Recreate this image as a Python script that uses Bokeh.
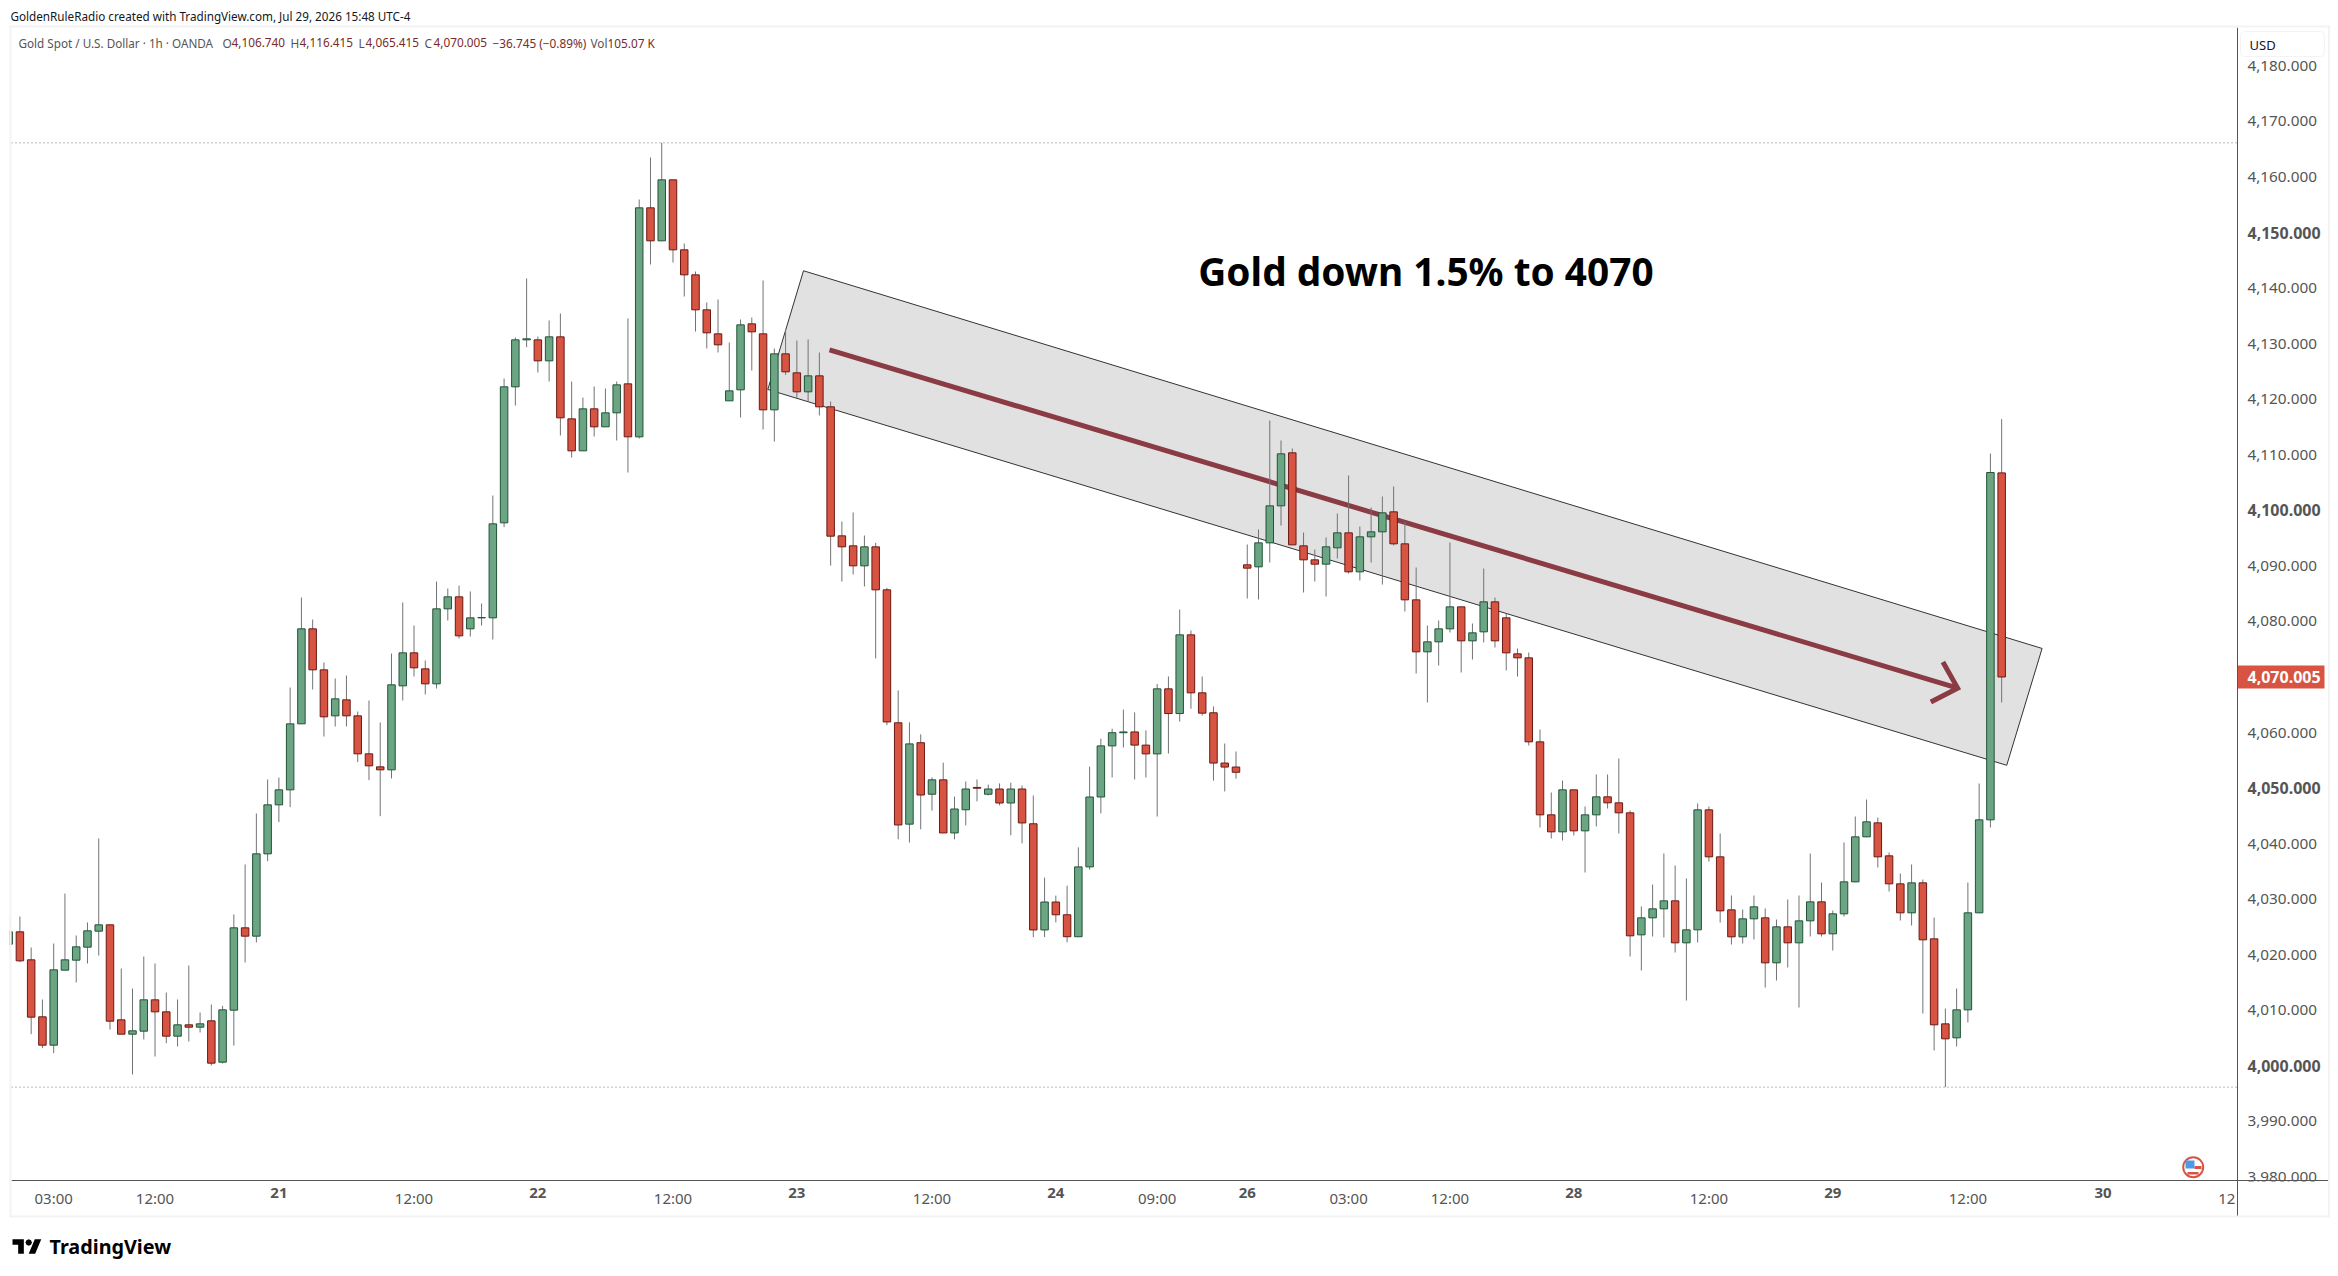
import math
from bokeh.plotting import figure
from bokeh.embed import file_html
from bokeh.resources import INLINE
from bokeh.core.properties import value
from bokeh.models import (Range1d, LinearAxis, FixedTicker, NumeralTickFormatter,
                          BoxAnnotation, PolyAnnotation, Label, ColumnDataSource)

opens = [4021.91,4024.13,4019.09,4008.83,4003.73,4017.23,4019.03,4021.37,4024.25,4025.39,4008.29,4005.71,4006.25,4011.89,4009.73,4005.35,4007.39,4006.97,4008.11,4000.67,4010.03,4024.85,4023.35,
4038.17,4046.99,4049.69,4061.57,4078.67,4071.29,4063.01,4065.89,4063.01,4056.17,4053.83,4053.29,4068.41,4074.35,4071.47,4068.77,4082.27,4084.43,4078.67,4080.65,4080.65,
4097.75,4122.23,4130.69,4130.69,4126.91,4131.23,4116.47,4110.71,4118.27,4115.03,4117.55,4122.77,4113.23,4154.45,4148.51,4159.49,4146.89,4142.39,4136.09,4131.77,4119.71,4121.69,4133.57,4131.77,4118.09,4128.17,4124.75,4121.33,4124.21,4118.63,
4095.41,4093.61,4090.01,4093.43,4085.69,4061.76,4043.51,4058.17,4048.90,4051.49,4041.93,4046.10,4050.12,4048.90,4049.84,4047.32,4049.84,4043.58,4024.47,4029.50,4027.20,4023.25,4035.82,4048.40,4057.60,4059.97,4060.11,4057.74,4056.16,4067.87,4063.42,4077.59,4067.15,4063.56,4054.51,4053.79,
4090.19,4089.83,4094.15,4100.81,4110.35,4093.61,4091.09,4090.31,4093.25,4095.95,4088.93,4095.23,4096.13,4099.73,4093.97,4083.89,4074.53,4076.33,4078.67,4082.63,4076.51,4078.13,4083.53,4080.65,4074.17,4073.45,4058.33,
4045.19,4042.13,4049.69,4042.31,4045.19,4048.43,4047.35,4045.55,4023.59,4026.65,4028.27,4029.71,4022.15,4024.49,4046.09,4037.63,4028.09,4023.23,4026.47,4026.65,4018.55,4025.03,4022.15,4026.11,4029.53,4023.77,4027.37,4033.13,4041.23,4043.75,4037.81,4032.77,4027.55,4032.95,4022.87,4007.57,4005.05,4010.09,4027.55,4044.29,4106.74]
highs = [4027.00,4026.89,4021.31,4011.95,4022.03,4031.03,4023.47,4025.81,4040.93,4025.39,4017.53,4013.93,4019.69,4018.43,4013.21,4011.95,4018.07,4009.61,4011.05,4010.81,4027.25,4036.25,4045.43,
4051.55,4051.91,4068.11,4084.31,4080.35,4072.61,4069.73,4070.27,4063.79,4065.77,4061.81,4074.23,4083.41,4079.27,4072.97,4087.19,4085.93,4086.47,4085.39,4083.23,4102.67,
4123.73,4131.11,4141.73,4131.29,4134.17,4135.43,4123.19,4120.31,4122.29,4121.93,4123.19,4134.53,4155.95,4163.51,4166.15,4159.49,4148.03,4142.99,4137.41,4137.95,4130.21,4134.35,4134.71,4141.37,4129.13,4132.55,4130.57,4130.75,4128.41,4119.59,
4097.99,4099.61,4095.47,4094.15,4086.05,4067.58,4061.84,4059.68,4051.92,4054.58,4048.47,4051.20,4051.56,4050.63,4050.84,4050.98,4050.48,4048.68,4033.88,4030.65,4032.44,4039.34,4053.86,4058.89,4060.69,4064.13,4063.63,4060.40,4068.73,4070.10,4082.15,4078.37,4070.10,4064.71,4058.03,4056.59,
4093.85,4096.55,4116.17,4112.57,4111.13,4096.01,4092.95,4095.11,4099.43,4106.27,4097.09,4100.51,4102.49,4104.29,4097.99,4089.71,4079.27,4080.17,4094.21,4082.63,4079.63,4089.53,4084.31,4081.43,4075.13,4074.41,4060.55,
4049.21,4051.37,4049.69,4046.69,4052.45,4052.45,4055.33,4045.97,4028.69,4032.65,4038.23,4036.07,4033.73,4047.23,4046.69,4041.83,4030.67,4028.15,4030.67,4028.33,4026.35,4029.95,4030.67,4038.23,4033.01,4027.97,4040.21,4044.89,4047.95,4044.71,4038.41,4034.63,4036.25,4033.55,4026.71,4010.33,4013.93,4033.01,4050.83,4110.23,4116.415]
lows = [4020.00,4018.67,4005.71,4003.19,4002.29,4017.23,4015.01,4018.43,4019.87,4006.55,4005.71,3998.45,4004.75,4001.69,4004.09,4003.49,4004.39,4006.01,4000.07,4000.43,4003.67,4018.61,4022.21,
4036.85,4043.87,4046.57,4061.57,4067.75,4059.29,4061.09,4061.09,4054.67,4051.43,4044.95,4051.73,4065.77,4070.09,4066.85,4067.93,4080.17,4076.93,4077.29,4079.27,4076.75,
4096.97,4118.87,4129.37,4124.81,4123.19,4113.47,4109.51,4110.71,4113.29,4115.03,4112.57,4106.81,4112.93,4144.25,4148.51,4144.61,4138.49,4132.19,4129.13,4128.41,4119.71,4116.71,4125.17,4114.55,4112.39,4124.39,4120.25,4119.53,4117.07,4090.07,
4087.19,4088.45,4086.29,4073.33,4061.33,4040.78,4040.21,4042.58,4045.95,4041.93,4040.78,4043.29,4047.61,4048.68,4046.89,4041.50,4040.06,4023.17,4023.17,4025.83,4022.24,4023.25,4035.32,4045.45,4051.92,4057.31,4051.56,4051.92,4044.88,4056.23,4061.98,4064.28,4063.06,4051.34,4049.40,4051.70,
4084.13,4083.95,4090.61,4097.27,4093.79,4085.21,4087.19,4084.49,4091.33,4088.63,4087.37,4090.61,4086.65,4093.67,4081.79,4070.63,4065.41,4072.07,4078.01,4070.81,4073.15,4076.21,4075.31,4071.17,4070.09,4057.67,4042.91,
4040.93,4040.57,4041.47,4034.81,4043.09,4046.33,4041.83,4019.69,4017.17,4023.29,4023.11,4020.41,4011.77,4022.21,4036.79,4025.81,4021.85,4022.03,4022.75,4014.11,4015.37,4017.71,4010.51,4023.29,4023.29,4020.77,4026.89,4033.07,4041.17,4035.71,4031.39,4026.17,4025.27,4009.43,4002.77,3996.17,4003.49,4007.81,4027.55,4042.91,4065.415]
closes = [4024.13,4018.91,4008.77,4003.73,4017.29,4019.09,4021.43,4024.31,4025.39,4008.05,4005.71,4006.31,4011.89,4009.73,4005.35,4007.39,4006.97,4007.57,4000.49,4010.09,4024.85,4023.35,4038.17,
4046.99,4049.69,4061.57,4078.67,4071.29,4062.83,4066.07,4063.01,4056.17,4054.01,4053.29,4068.59,4074.35,4071.65,4068.77,4082.27,4084.43,4077.41,4080.65,4080.70,4097.57,
4122.23,4130.69,4130.87,4126.91,4131.23,4116.65,4110.71,4118.27,4115.03,4117.55,4122.59,4113.23,4154.45,4148.51,4159.49,4146.89,4142.39,4136.09,4131.95,4129.79,4121.51,4133.39,4132.13,4118.09,4128.17,4124.93,4121.33,4124.21,4118.63,4095.35,
4093.43,4090.01,4093.43,4085.69,4061.91,4043.37,4057.96,4048.76,4051.49,4041.93,4046.24,4049.84,4049.98,4049.84,4047.32,4049.84,4043.73,4024.47,4029.50,4027.20,4023.25,4035.82,4048.40,4057.60,4059.97,4060.11,4057.74,4056.16,4067.87,4063.42,4077.59,4067.15,4063.49,4054.51,4053.79,4052.85,
4089.59,4094.15,4100.81,4110.17,4093.79,4091.09,4090.31,4093.43,4095.95,4088.93,4095.23,4096.13,4099.55,4093.97,4083.89,4074.53,4076.33,4078.67,4082.63,4076.51,4077.95,4083.53,4076.51,4074.35,4073.45,4058.33,4045.19,
4042.13,4049.69,4042.31,4045.19,4048.43,4047.35,4045.55,4023.41,4026.65,4028.27,4029.71,4022.15,4024.49,4046.09,4037.63,4027.91,4023.23,4026.47,4028.63,4018.55,4025.03,4022.15,4026.11,4029.53,4023.77,4027.37,4033.13,4041.23,4043.93,4037.63,4032.77,4027.55,4032.95,4022.69,4007.39,4004.87,4010.09,4027.55,4044.29,4106.81,4070.005]

x_tick_labels = {4:"03:00",13:"12:00",36:"12:00",59:"12:00",82:"12:00",102:"09:00",119:"03:00",128:"12:00",151:"12:00",174:"12:00",197:"12"}
x_bold_labels = {24:"21",47:"22",70:"23",93:"24",110:"26",139:"28",162:"29",186:"30"}
y_ticks = [3980,3990,4010,4020,4030,4040,4060,4070,4080,4090,4110,4120,4130,4140,4160,4170,4180]
y_bold_ticks = [4000,4050,4100,4150]
channel_x = [70.59,180.59,177.45,67.42]
channel_y = [4143.12,4075.14,4054.11,4121.75]
arrow_x = [72.9,173.09]
arrow_y = [4128.9,4068.0]
head_x = [171.78,173.09,170.71]
head_y = [4072.7,4068.0,4065.5]

W, H = 2330, 1268
X0, BAR = 8.15, 11.26          # pixel position of bar 0, pixels per bar
P0, PPX = 4191.77, 0.18        # price at the top of the canvas, price per pixel
def xv(px): return (px - X0) / BAR
def yv(py): return P0 - PPX * py
PANE_L, PANE_R, PANE_T, PANE_B = 11, 2237, 27, 1180

UP, DOWN, UP_B, DOWN_B, WICK = "#6ba583", "#d75442", "#225437", "#6b1914", "#737375"
FONT = "Noto Sans"
idx = list(range(len(closes)))
up = [closes[i] >= opens[i] for i in idx]
src = ColumnDataSource(dict(
    x=idx, o=opens, h=highs, l=lows, c=closes,
    top=[max(opens[i], closes[i]) for i in idx],
    bot=[min(opens[i], closes[i]) for i in idx],
    fill=[UP if u else DOWN for u in up],
    edge=[UP_B if u else DOWN_B for u in up]))

p = figure(width=W, height=H, output_backend="svg", toolbar_location=None,
           x_range=Range1d(xv(0), xv(W)), y_range=Range1d(yv(H), yv(0)),
           x_axis_location=None, y_axis_location=None,
           min_border_left=0, min_border_top=0, min_border_right=0, min_border_bottom=0)
p.grid.visible = False
p.outline_line_color = None
p.background_fill_color = "#ffffff"

def style(ax, bold=False, size=15):
    ax.major_label_text_font = FONT
    ax.major_label_text_font_size = f"{size}px"
    ax.major_label_text_font_style = "bold" if bold else "normal"
    ax.major_label_text_color = "#555555"
    ax.major_tick_line_color = None
    ax.minor_tick_line_color = None
    ax.major_tick_out = 0
    ax.major_tick_in = 0

ax_x = LinearAxis(ticker=FixedTicker(ticks=list(x_tick_labels)), major_label_overrides=dict(x_tick_labels),
                  fixed_location=yv(PANE_B), bounds=(xv(PANE_L), xv(2327.5)))
style(ax_x); ax_x.axis_line_color = "#555555"; ax_x.major_label_standoff = 7
p.add_layout(ax_x, "below")
ax_xb = LinearAxis(ticker=FixedTicker(ticks=list(x_bold_labels)), major_label_overrides=dict(x_bold_labels),
                   fixed_location=yv(PANE_B))
style(ax_xb, True); ax_xb.axis_line_color = None; ax_xb.major_label_standoff = 7
p.add_layout(ax_xb, "below")

ax_y = LinearAxis(ticker=FixedTicker(ticks=y_ticks), formatter=NumeralTickFormatter(format="0,0.000"),
                  fixed_location=xv(PANE_R), bounds=(yv(1215.5), yv(PANE_T)))
style(ax_y, size=15.3); ax_y.axis_line_color = "#555555"; ax_y.major_label_standoff = 10
p.add_layout(ax_y, "right")
ax_yb = LinearAxis(ticker=FixedTicker(ticks=y_bold_ticks), formatter=NumeralTickFormatter(format="0,0.000"),
                   fixed_location=xv(PANE_R))
style(ax_yb, True, 16); ax_yb.axis_line_color = None; ax_yb.major_label_standoff = 10
p.add_layout(ax_yb, "right")

for lvl in (max(highs), min(lows)):
    p.segment([xv(PANE_L)], [lvl], [xv(PANE_R)], [lvl], line_color="#777777", line_dash="1 3", line_width=1)

p.patch(channel_x, channel_y, fill_color="#e1e1e1", line_color="#333333", line_width=1)
p.line(arrow_x, arrow_y, line_color="#8a3b44", line_width=5)
p.line(head_x, head_y, line_color="#8a3b44", line_width=5, line_join="miter")
p.segment("x", "l", "x", "h", source=src, line_color=WICK, line_width=1)
p.vbar(x="x", top="top", bottom="bot", width=0.666, source=src, fill_color="fill", line_color="edge", line_width=1)

p.text([105.65], [4143.0], text=["Gold down 1.5% to 4070"], text_font=value(FONT), text_font_size="38.8px",
       text_font_style="bold", text_baseline="middle", text_color="#000000")

def box(l, t, r, b, color, line=None, radius=0):
    p.add_layout(BoxAnnotation(left=l, right=r, top=t, bottom=b,
                 left_units="canvas", right_units="canvas", top_units="canvas", bottom_units="canvas",
                 fill_color=color, fill_alpha=1, line_color=line, line_alpha=1 if line else 0,
                 border_radius=radius))

def label(x, y, text, color="#131722", size=13, bold=False, font=FONT):
    p.add_layout(Label(x=x, y=y, x_units="canvas", y_units="canvas", text=text, text_color=color,
                 text_font=font, text_font_size=f"{size}px", text_font_style="bold" if bold else "normal",
                 text_baseline="middle", text_align="left"))

box(2238, 1181, 2327, 1214, "#ffffff")
box(0, 0, 9, 1268, "#ffffff")
box(9, 25, 11, 1217, "#f3f3f3")
box(9, 25, 2330, 27, "#f3f3f3")
box(2327.5, 25, 2330, 1217, "#f3f3f3")
box(9, 1215, 2330, 1217, "#f3f3f3")

box(2240, 31, 2324, 56, "#ffffff", line="#f3f3f3", radius=4)
label(2249, 44, "USD", "#131722", 13)
box(2237.5, 665, 2324, 688, DOWN)
label(2247, 676.5, "4,070.005", "#ffffff", 16, True)

label(10, 15, "GoldenRuleRadio created with TradingView.com, Jul 29, 2026 15:48 UTC-4", "#131722", 11.7)
label(18, 42, "Gold Spot / U.S. Dollar · 1h · OANDA", "#555555", 11.7)
VAL = "#7a2a2a"
for lx_, vx, a, b in [(222, 231, "O", "4,106.740"), (290, 299, "H", "4,116.415"), (358, 365, "L", "4,065.415"), (424, 433, "C", "4,070.005")]:
    label(lx_, 42, a, "#555555", 11.8)
    label(vx, 42, b, VAL, 11.8)
label(492, 42, "−36.745 (−0.89%)", VAL, 11.8)
label(590, 42, "Vol", "#555555", 11.8)
label(607, 42, "105.07 K", VAL, 11.8)

# logo
LX, LY, LS = 12, 1238.7, 0.81
def lx(u): return LX + u * LS
def ly(v): return LY + (v - 4) * LS
for pts in ([(14,22),(7,22),(7,11),(0,11),(0,4),(14,4)], [(28,22),(20,22),(27.5,4),(35.5,4)],
            [(20+4*math.cos(t/8*math.tau), 8+4*math.sin(t/8*math.tau)) for t in range(8)]):
    p.add_layout(PolyAnnotation(xs=[lx(a) for a, b in pts], ys=[ly(b) for a, b in pts],
                 xs_units="canvas", ys_units="canvas", fill_color="#000000", fill_alpha=1, line_color=None))
label(49, 1246, "TradingView", "#000000", 19.8, True)

# flag
p.scatter([xv(2192.7)], [yv(1166.7)], size=20, marker="circle", fill_color="#ffffff", line_color=DOWN, line_width=2)
box(2185, 1160, 2194, 1168, "#4d9be8")
box(2194, 1165.5, 2201, 1168.5, DOWN)
box(2187, 1171.5, 2198, 1174, DOWN)

open("out.html", "w").write(file_html(p, INLINE))
